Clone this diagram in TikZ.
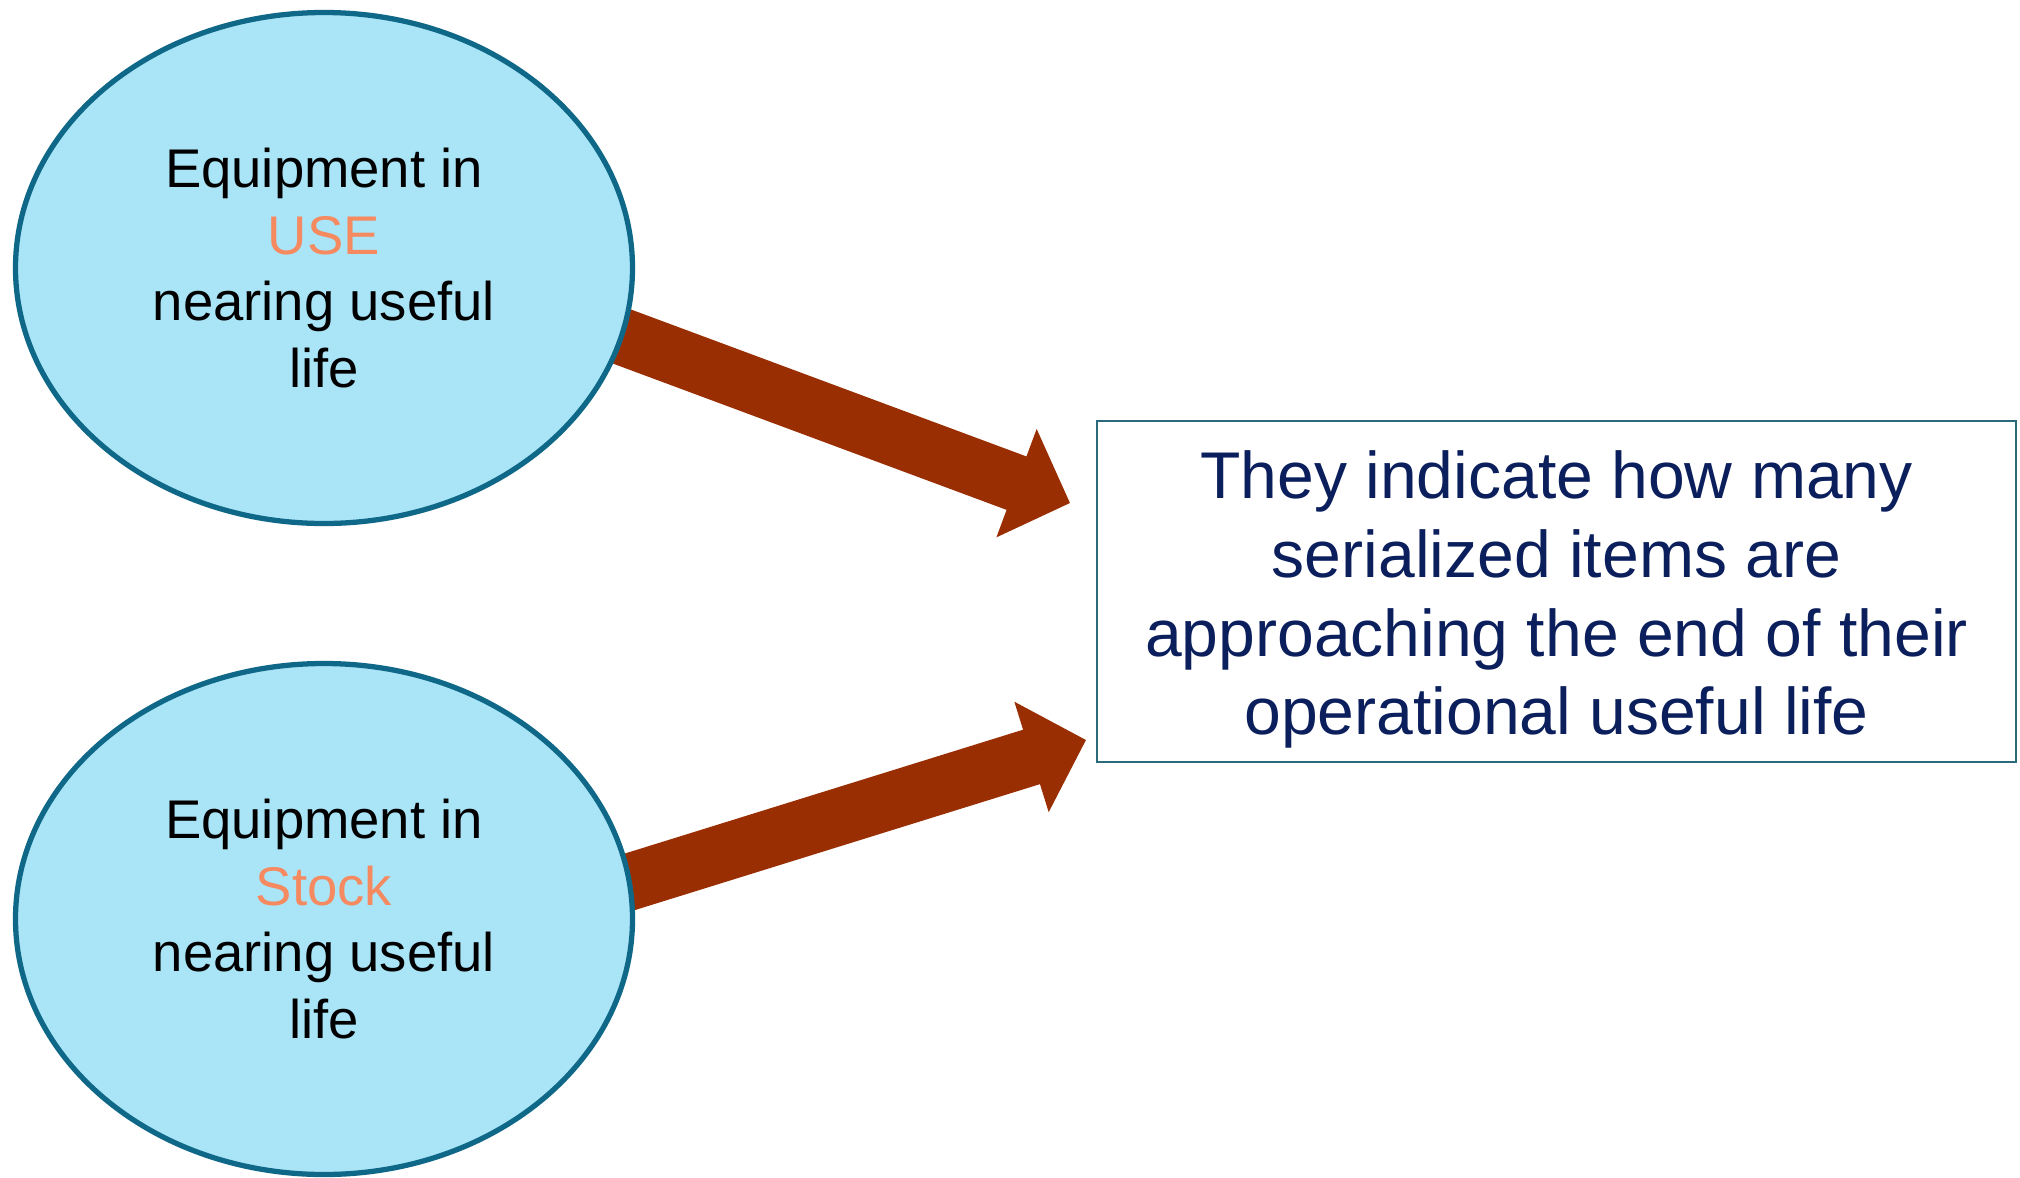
\documentclass[tikz,border=0pt]{standalone}
\usepackage{fontspec}
\setmainfont{Liberation Sans}
\usetikzlibrary{shapes.geometric,arrows.meta}
\definecolor{ciel}{HTML}{AAE5F7}
\definecolor{bord}{HTML}{0F6888}
\definecolor{corail}{HTML}{F58A61}
\definecolor{brique}{HTML}{9A2E03}
\definecolor{marine}{HTML}{0B1F5C}
\definecolor{cadre}{HTML}{2B6A7A}
\pgfdeclarelayer{fond}
\pgfsetlayers{fond,main}
\tikzset{
equip/.style={ellipse,draw=bord,fill=ciel,line width=1.5pt,minimum width=6.17cm,minimum height=5.11cm,inner sep=0pt,align=center,font=\fontsize{15.5pt}{18.9pt}\selectfont},
note/.style={draw=cadre,line width=0.6pt,minimum width=9.19cm,minimum height=3.41cm,inner sep=0pt,align=center,text=marine,font=\fontsize{18.8pt}{22.4pt}\selectfont},
fleche/.style={brique,line width=0.57cm,-{Triangle[length=0.57cm,width=1.15cm,line width=1pt]},shorten <=-0.3cm}
}
\begin{document}
\begin{tikzpicture}
\useasboundingbox (0,0) rectangle (20.2,-11.77);
\node[equip] (use) at (3.24,-2.68) {Equipment in\\\textcolor{corail}{USE}\\nearing useful\\life};
\node[equip] (stock) at (3.24,-9.19) {Equipment in\\\textcolor{corail}{Stock}\\nearing useful\\life};
\node[note] (note) at (15.565,-5.915) {\rule{0pt}{0.64cm}They indicate how many\\serialized items are\\approaching the end of their\\operational useful life};
\coordinate (tipA) at ([shift={(-0.26,0.885)}]note.west);
\coordinate (tipB) at ([shift={(-0.10,-1.485)}]note.west);
\begin{pgfonlayer}{fond}
\draw[fleche] (use.-13.7)--(tipA);
\draw[fleche] (stock.7.6)--(tipB);
\end{pgfonlayer}
\end{tikzpicture}
\end{document}
